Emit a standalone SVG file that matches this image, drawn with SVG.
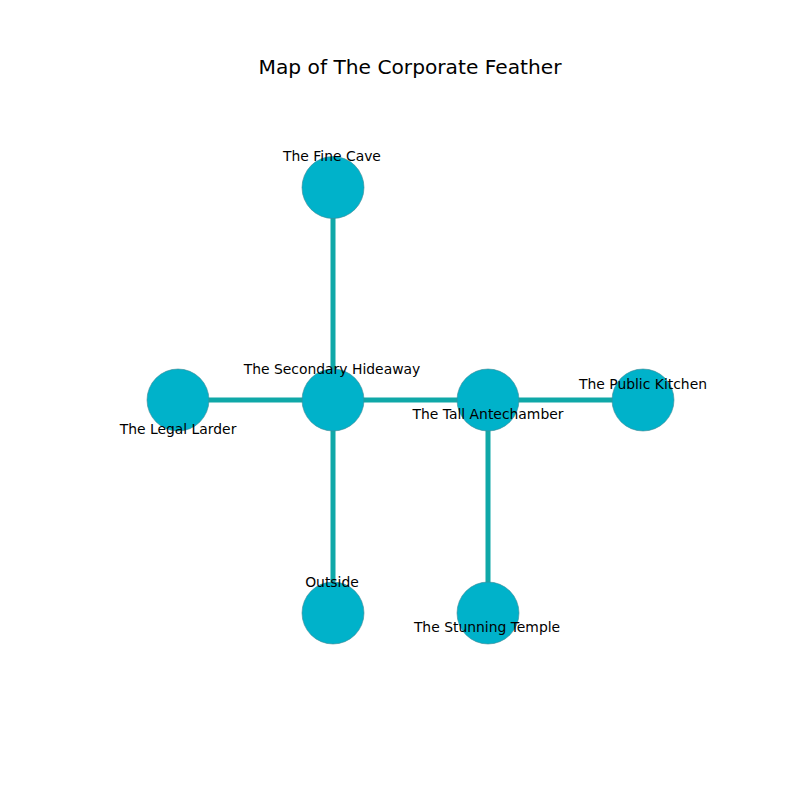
<svg xmlns="http://www.w3.org/2000/svg" width="800" height="800" viewBox="0 0 800 800">
<style>
.edge{stroke:#0fa8a8;stroke-width:5;fill:none}
.node circle{fill:#00b2ca;stroke:#3f8a96;stroke-width:0.6}
.lbl{font-family:"DejaVu Sans",sans-serif;font-size:13.9px;fill:#000;text-anchor:middle}
.title{font-family:"DejaVu Sans",sans-serif;font-size:20.2px;fill:#000;text-anchor:middle}
</style>
<rect width="800" height="800" fill="#fff"/>
<text class="title" x="410" y="74">Map of The Corporate Feather</text>
<g id="connectors">
<line class="edge" x1="333" y1="187" x2="333" y2="400"/>
<line class="edge" x1="178" y1="400" x2="333" y2="400"/>
<line class="edge" x1="333" y1="400" x2="488" y2="400"/>
<line class="edge" x1="488" y1="400" x2="643" y2="400"/>
<line class="edge" x1="333" y1="400" x2="333" y2="613"/>
<line class="edge" x1="488" y1="400" x2="488" y2="613"/>
</g>
<g id="node-fine-cave" class="node"><circle cx="333" cy="187.5" r="31"/></g>
<g id="node-legal-larder" class="node"><circle cx="178" cy="400" r="31"/></g>
<g id="node-secondary-hideaway" class="node"><circle cx="333" cy="400" r="31"/></g>
<g id="node-tall-antechamber" class="node"><circle cx="488" cy="400" r="31"/></g>
<g id="node-public-kitchen" class="node"><circle cx="643" cy="400" r="31"/></g>
<g id="node-outside" class="node"><circle cx="333" cy="613" r="31"/></g>
<g id="node-stunning-temple" class="node"><circle cx="488" cy="613" r="31"/></g>
<g id="labels">
<text class="lbl" x="332" y="161">The Fine Cave</text>
<text class="lbl" x="332" y="374">The Secondary Hideaway</text>
<text class="lbl" x="178" y="434">The Legal Larder</text>
<text class="lbl" x="488" y="419">The Tall Antechamber</text>
<text class="lbl" x="643" y="389">The Public Kitchen</text>
<text class="lbl" x="332" y="587">Outside</text>
<text class="lbl" x="487" y="632">The Stunning Temple</text>
</g>
</svg>
